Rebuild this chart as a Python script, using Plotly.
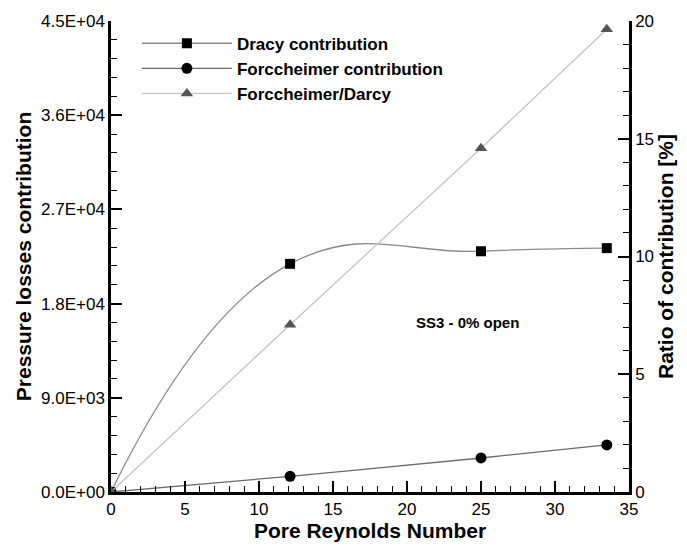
import plotly.graph_objects as go

# Data
re_pore = [0, 12.1, 25, 33.5]
darcy = [0, 21800, 23000, 23300]
forch = [0, 1500, 3250, 4500]
ratio = [0, 7.1, 14.6, 19.65]

y_ticks = [0, 9000, 18000, 27000, 36000, 45000]
y_ticktext = ["0.0E+00", "9.0E+03", "1.8E+04", "2.7E+04", "3.6E+04", "4.5E+04"]

FONT = "Arial, Liberation Sans, Helvetica, sans-serif"

fig = go.Figure()
fig.add_trace(go.Scatter(
    x=re_pore, y=darcy, name="Dracy contribution", mode="lines+markers",
    line=dict(color="#8a8a8a", width=1.3, shape="spline", smoothing=1.3),
    marker=dict(symbol="square", size=10, color="black"),
))
fig.add_trace(go.Scatter(
    x=re_pore, y=forch, name="Forccheimer contribution", mode="lines+markers",
    line=dict(color="#6a6a6a", width=1.3, shape="spline", smoothing=1.0),
    marker=dict(symbol="circle", size=11, color="black"),
))
fig.add_trace(go.Scatter(
    x=re_pore, y=ratio, name="Forccheimer/Darcy", mode="lines+markers",
    line=dict(color="#c4c4c4", width=1.3),
    marker=dict(symbol="triangle-up", size=11, color="#555555"),
    yaxis="y2",
))

fig.add_annotation(x=24.1, y=16150, text="<b>SS3 - 0% open</b>", showarrow=False,
                   font=dict(family=FONT, size=15, color="black"))

fig.update_layout(
    width=687, height=550,
    margin=dict(l=111, r=52, t=14, b=54),
    paper_bgcolor="white", plot_bgcolor="white",
    font=dict(family=FONT, size=17, color="black"),
    showlegend=True,
    legend=dict(x=0.05, y=0.99, xanchor="left", yanchor="top",
                bgcolor="rgba(0,0,0,0)", borderwidth=0,
                font=dict(family=FONT, size=17, color="black", weight="bold"),
                tracegroupgap=0, itemwidth=90),
    xaxis=dict(
        range=[0, 35], tickmode="linear", tick0=0, dtick=5,
        showline=True, linecolor="black", linewidth=2.5,
        ticks="inside", ticklen=11, tickwidth=2, tickcolor="black",
        minor=dict(ticks="inside", ticklen=6, tickwidth=1, dtick=1, tickcolor="black"),
        showgrid=False, zeroline=False,
        tickfont=dict(family=FONT, size=17),
        title=dict(text="<b>Pore Reynolds Number</b>", font=dict(family=FONT, size=21), standoff=4),
    ),
    yaxis=dict(
        range=[0, 45000], tickmode="array", tickvals=y_ticks, ticktext=y_ticktext,
        showline=True, linecolor="black", linewidth=2.5,
        ticks="inside", ticklen=11, tickwidth=2, tickcolor="black",
        minor=dict(ticks="inside", ticklen=6, tickwidth=1, dtick=1800, tickcolor="black"),
        showgrid=False, zeroline=False,
        tickfont=dict(family=FONT, size=17),
        title=dict(text="<b>Pressure losses contribution</b>", font=dict(family=FONT, size=21), standoff=4),
    ),
    yaxis2=dict(
        range=[0, 20], overlaying="y", side="right", tickmode="linear", tick0=0, dtick=5,
        showline=True, linecolor="black", linewidth=2.5,
        ticks="inside", ticklen=11, tickwidth=2, tickcolor="black",
        minor=dict(ticks="inside", ticklen=6, tickwidth=1, dtick=1, tickcolor="black"),
        showgrid=False, zeroline=False,
        tickfont=dict(family=FONT, size=17),
        title=dict(text="<b>Ratio of contribution [%]</b>", font=dict(family=FONT, size=21), standoff=6),
    ),
)

fig.write_html("out.html")
